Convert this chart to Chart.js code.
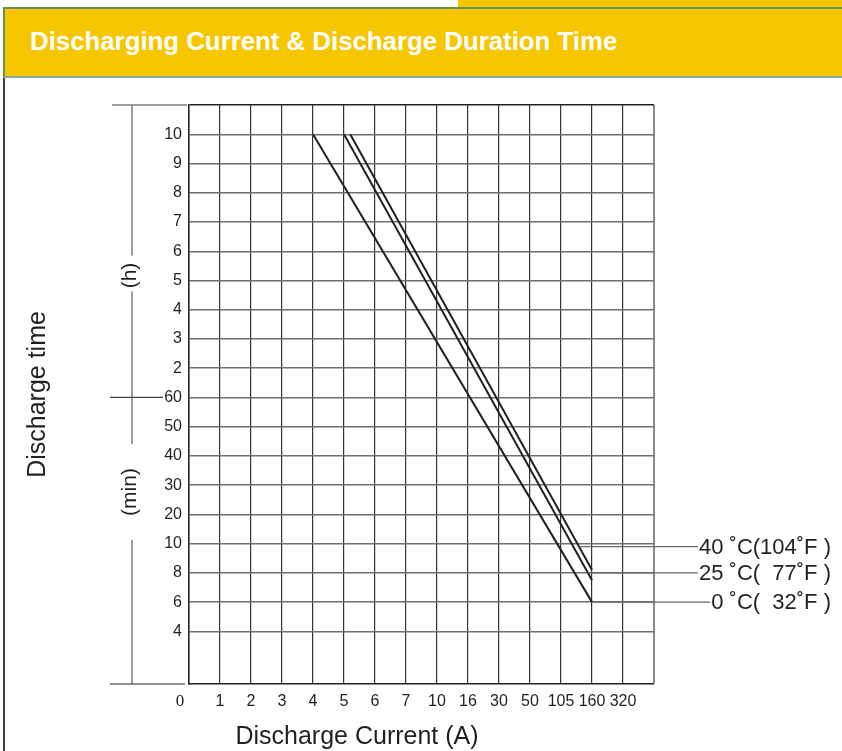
<!DOCTYPE html>
<html>
<head>
<meta charset="utf-8">
<script src="https://cdn.jsdelivr.net/npm/chart.js@4.4.1/dist/chart.umd.min.js"></script>
<style>
  html, body { margin: 0; padding: 0; background: #fff; }
  #page { position: relative; width: 842px; height: 751px; overflow: hidden; background: #fff; }
  #c { position: absolute; left: 0; top: 0; }
  #strip { position: absolute; left: 458px; top: 0; width: 384px; height: 7px; background: #F6C600; }
  #header { position: absolute; left: 3px; top: 7px; width: 839px; height: 67px; background: #F6C600;
            border-top: 2px solid #6c8c5c; border-bottom: 2px solid #86ab9a; border-left: 2px solid #6c8c5c; }
  #header h1 { position: absolute; margin: 0; left: 25px; top: 19px; white-space: nowrap;
               font: bold 25.8px/26px "Liberation Sans", Arial, sans-serif; color: #fff; }
  #lb { position: absolute; left: 3px; top: 78px; width: 1.5px; height: 673px; background: #3c3c3c; }
</style>
</head>
<body>
<div id="page">
  <canvas id="c" width="842" height="751"></canvas>
  <div id="strip"></div>
  <div id="header"><h1>Discharging Current &amp; Discharge Duration Time</h1></div>
  <div id="lb"></div>
</div>
<script>
// ---------- data ----------
// x axis: discharge current tick labels (A), one grid column per label
const xLabels = ['0', '1', '2', '3', '4', '5', '6', '7', '10', '16', '30', '50', '105', '160', '320'];
const xAmps   = [0, 1, 2, 3, 4, 5, 6, 7, 10, 16, 30, 50, 105, 160, 320];
// y axis: discharge time tick labels, bottom to top (minutes, then hours)
const yLabels  = ['4', '6', '8', '10', '20', '30', '40', '50', '60', '2', '3', '4', '5', '6', '7', '8', '9', '10'];
const yMinutes = [4, 6, 8, 10, 20, 30, 40, 50, 60, 120, 180, 240, 300, 360, 420, 480, 540, 600];

// curves: discharge current (A) vs. discharge time (min)
const current0C  = [4, 160];
const time0C     = [600, 6];
const current25C = [5, 160];
const time25C    = [600, 7.5];
const current40C = [5.2, 160];
const time40C    = [600, 8.2];

const seriesLabels = ['0 ˚C(  32˚F )', '25 ˚C(  77˚F )', '40 ˚C(104˚F )'];
const leaderTimes  = [6, 8, 9.8];   // time (min) where each label's leader line meets its curve

// ---------- map values onto the chart's grid index ----------
function toIdx(v, table, offset) {
  for (let i = 0; i < table.length - 1; i++) {
    if (v <= table[i + 1]) {
      return offset + i + (v - table[i]) / (table[i + 1] - table[i]);
    }
  }
  return offset + table.length - 1;
}
function points(cur, tim) {
  return cur.map((c, i) => ({ x: toIdx(c, xAmps, 0), y: toIdx(tim[i], yMinutes, 1) }));
}

const INK = '#231f20';
const FONT = '"Liberation Sans", Arial, sans-serif';
const X_MAX = xLabels.length;          // right border of the grid
const Y_MAX = yLabels.length + 1;      // top border of the grid

const seriesData = [points(current0C, time0C), points(current25C, time25C), points(current40C, time40C)];

const deco = {
  id: 'deco',
  afterDraw(chart) {
    const { ctx, chartArea: a, scales: { x, y } } = chart;
    ctx.save();

    // bracket on the left: (h) / (min)
    const yTop = y.getPixelForValue(Y_MAX);
    const y60 = y.getPixelForValue(toIdx(60, yMinutes, 1));
    const yBot = a.bottom;
    const bx = a.left - 57;
    const hC = yTop + 0.583 * (y60 - yTop);
    const mC = y60 + 0.33 * (yBot - y60);
    ctx.strokeStyle = '#7d7d7d';
    ctx.lineWidth = 1.5;
    ctx.beginPath();
    ctx.moveTo(bx, yTop); ctx.lineTo(bx, hC - 20);
    ctx.moveTo(bx, hC + 16); ctx.lineTo(bx, mC - 48);
    ctx.moveTo(bx, mC + 48); ctx.lineTo(bx, yBot);
    ctx.moveTo(a.left - 77, yTop); ctx.lineTo(a.left - 2, yTop);
    ctx.stroke();
    ctx.strokeStyle = '#444';
    ctx.lineWidth = 1.2;
    ctx.beginPath();
    ctx.moveTo(a.left - 79, y60); ctx.lineTo(a.left - 26, y60);
    ctx.stroke();
    ctx.strokeStyle = '#222';
    ctx.beginPath();
    ctx.moveTo(a.left - 79, yBot); ctx.lineTo(a.left - 4, yBot);
    ctx.stroke();

    ctx.fillStyle = INK;
    ctx.textAlign = 'center';
    ctx.textBaseline = 'middle';
    ctx.font = '21px ' + FONT;
    [['(h)', hC], ['(min)', mC]].forEach(([t, cy]) => {
      ctx.save();
      ctx.translate(bx - 2, cy);
      ctx.rotate(-Math.PI / 2);
      ctx.fillText(t, 0, 0);
      ctx.restore();
    });

    // origin label
    ctx.font = '17px "Liberation Serif", "Times New Roman", serif';
    ctx.fillText(xLabels[0], a.left - 9, a.bottom + 18);

    // x axis title
    ctx.font = '25px ' + FONT;
    ctx.fillText('Discharge Current (A)', a.left + 168, a.bottom + 53);

    // series labels with leader lines
    ctx.font = '22px ' + FONT;
    ctx.textAlign = 'right';
    const rightX = a.right + 177;
    seriesData.forEach((pts, i) => {
      const ty = toIdx(leaderTimes[i], yMinutes, 1);
      const p0 = pts[0], p1 = pts[pts.length - 1];
      const tx = p0.x + (ty - p0.y) / (p1.y - p0.y) * (p1.x - p0.x);
      const py = y.getPixelForValue(ty);
      const px = x.getPixelForValue(tx);
      const w = ctx.measureText(seriesLabels[i]).width;
      ctx.strokeStyle = '#6a6a6a';
      ctx.lineWidth = 1.3;
      ctx.beginPath();
      ctx.moveTo(px, py); ctx.lineTo(rightX - w - 1, py);
      ctx.stroke();
      ctx.fillText(seriesLabels[i], rightX, py + 1);
    });
    ctx.restore();
  }
};

new Chart(document.getElementById('c'), {
  type: 'line',
  data: {
    datasets: seriesData.map((d, i) => ({
      label: seriesLabels[i],
      data: d,
      borderColor: INK,
      borderWidth: 2,
      pointRadius: 0,
      tension: 0,
      fill: false
    }))
  },
  options: {
    responsive: false,
    animation: false,
    events: [],
    layout: { padding: { left: 0, top: 105, right: 188, bottom: 0 } },
    plugins: { legend: { display: false }, tooltip: { enabled: false } },
    scales: {
      x: {
        type: 'linear', min: 0, max: X_MAX,
        afterFit(s) { s.height = 67; },
        afterBuildTicks(s) { s.ticks = Array.from({ length: X_MAX + 1 }, (_, i) => ({ value: i })); },
        ticks: {
          autoSkip: false, maxRotation: 0, padding: 8, color: INK,
          font: { family: FONT, size: 16 },
          callback: (v) => (v >= 1 && v < xLabels.length) ? xLabels[v] : ''
        },
        grid: {
          drawTicks: false,
          color: (c) => c.tick && c.tick.value === X_MAX ? '#8a8a8a' : '#333',
          lineWidth: (c) => c.tick && c.tick.value === X_MAX ? 2 : 1.2
        },
        border: { display: true, color: '#222', width: 1.5 }
      },
      y: {
        type: 'linear', min: -0.8, max: Y_MAX,
        afterFit(s) { s.width = 189; },
        afterBuildTicks(s) { s.ticks = Array.from({ length: Y_MAX }, (_, i) => ({ value: i + 1 })); },
        ticks: {
          autoSkip: false, padding: 7, color: INK,
          font: { family: FONT, size: 16 },
          callback: (v) => (v >= 1 && v <= yLabels.length) ? yLabels[v - 1] : ''
        },
        grid: {
          drawTicks: false,
          color: (c) => c.tick && c.tick.value === Y_MAX ? '#222' : '#6e6e6e',
          lineWidth: 1.4
        },
        border: { display: true, color: '#222', width: 1.5 },
        title: {
          display: true, text: 'Discharge time', color: INK,
          font: { family: FONT, size: 25 }, padding: { top: 23, bottom: 0 }
        }
      }
    }
  },
  plugins: [deco]
});
</script>
</body>
</html>
